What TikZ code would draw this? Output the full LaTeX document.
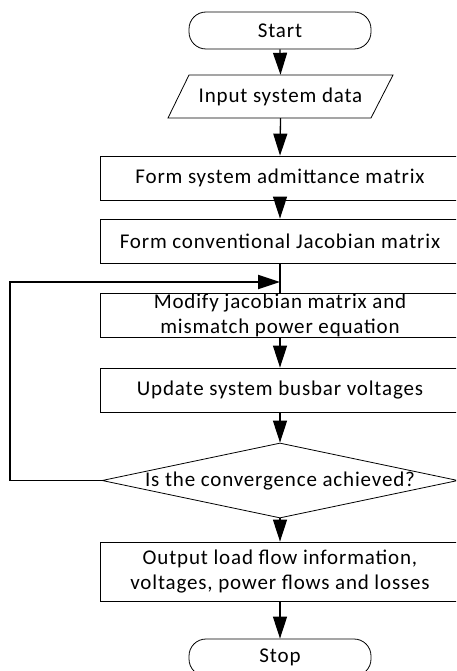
\documentclass[tikz,border=0pt]{standalone}
\usepackage{fontspec}
\setmainfont{Carlito}[LetterSpace=4]
\usetikzlibrary{arrows.meta,shapes.geometric}
\begin{document}
\begin{tikzpicture}[x=1pt,y=-1pt,
  every node/.style={font=\fontsize{21}{25}\selectfont},
  box/.style={draw, line width=0.8pt, minimum width=360pt, inner sep=0pt, align=center},
  term/.style={draw, line width=0.8pt, rounded corners=17pt, minimum width=182pt, minimum height=37pt, inner sep=0pt},
  decision/.style={draw, diamond, line width=0.8pt, minimum width=356pt, minimum height=75pt, inner sep=0pt},
  arr/.style={line width=1.3pt, -{Triangle[width=14pt,length=22pt]}},
  plain/.style={line width=1.3pt},
  loopline/.style={line width=1.8pt, line join=miter, -{Triangle[width=14pt,length=22pt]}}
]
\useasboundingbox (0,0) rectangle (456,671);
\clip (0,0) rectangle (456,671);
\fill[white] (0,0) rectangle (456,671);

\node[term] (start) at (280,30.5) {Start};

\draw[line width=0.8pt] (168,118) -- (189,75) -- (393,75) -- (371,118) -- cycle;
\node[minimum height=43pt, minimum width=160pt, inner sep=0pt] (inp) at (280.5,96.5) {Input system data};

\node[box, minimum height=44pt] (adm) at (280,178) {Form system admittance matrix};
\node[box, minimum height=44pt] (conv) at (280,241) {Form conventional Jacobian matrix};
\node[box, minimum height=44pt] (mod) at (280,315) {Modify jacobian matrix and\\mismatch power equation};
\node[box, minimum height=44pt] (upd) at (280,390) {Update system busbar voltages};
\node[decision] (dec) at (280,480.5) {};
\node[inner sep=0pt] (dectext) at (280,481) {Is the convergence achieved?};
\node[box, minimum height=59pt] (out) at (280,571.5) {Output load flow information,\\voltages, power flows and losses};
\node[term] (stop) at (280,657.5) {Stop};

\coordinate (lc) at (10,282);
\coordinate (join) at (280,282);

\draw[arr] (start.south) -- (inp.north);
\draw[arr] (inp.south) -- (adm.north);
\draw[arr] (adm.south) -- (conv.north);
\draw[plain] (conv.south) -- (mod.north);
\draw[arr] (mod.south) -- (upd.north);
\draw[arr] (upd.south) -- (dec.north);
\draw[arr] (dec.south) -- (out.north);
\draw[arr] (out.south) -- (stop.north);
\draw[loopline] (dec.west) -| (lc) -- (join);
\end{tikzpicture}
\end{document}
